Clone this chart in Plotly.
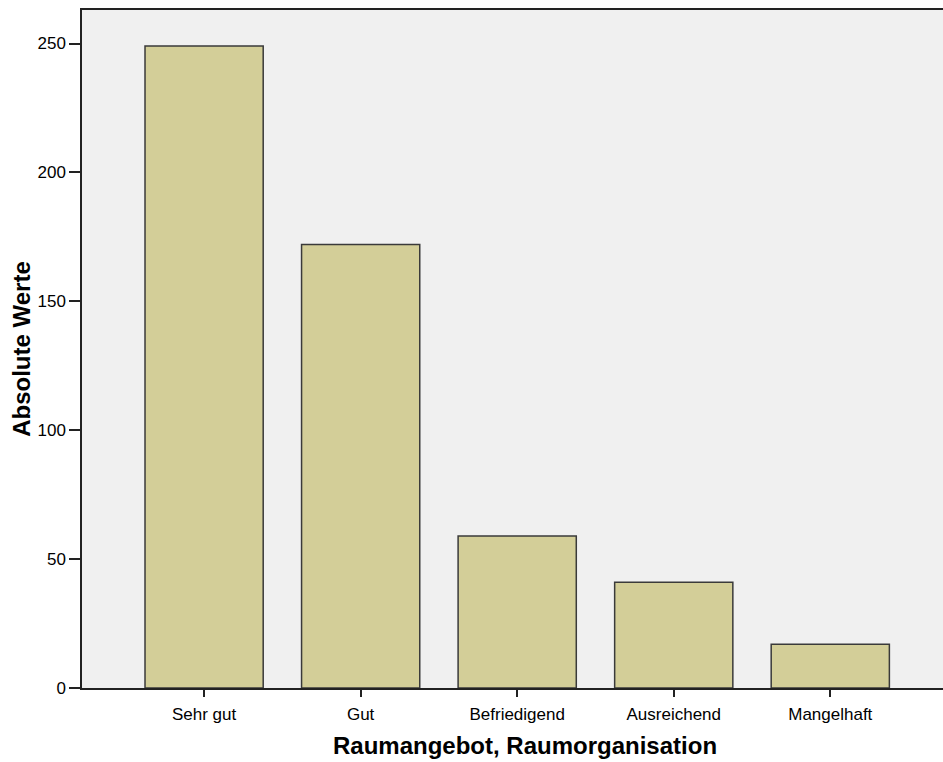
import plotly.graph_objects as go

categories = ["Sehr gut", "Gut", "Befriedigend", "Ausreichend", "Mangelhaft"]
values = [249, 172, 59, 41, 17]
y_ticks = [0, 50, 100, 150, 200, 250]

fig = go.Figure()
fig.add_trace(go.Bar(
    x=list(range(len(categories))),
    y=values,
    marker=dict(color="#D3CE98", line=dict(color="#3a3a3a", width=1.5)),
    width=0.755,
    hoverinfo="x+y",
))

fig.update_layout(
    width=943, height=762,
    margin=dict(l=82, r=0, t=10, b=74),
    paper_bgcolor="white",
    plot_bgcolor="#F0F0F0",
    showlegend=False,
    font=dict(family="Liberation Sans, Arial, sans-serif", size=17, color="#000000"),
    xaxis=dict(
        tickmode="array",
        tickvals=list(range(len(categories))),
        ticktext=categories,
        range=[-0.78, 4.72],
        showgrid=False, zeroline=False,
        showline=True, linecolor="#222222", linewidth=1.5, mirror=True,
        ticks="outside", ticklen=7, tickcolor="#222222", tickwidth=1.5,
        tickfont=dict(size=17),
        ticklabelstandoff=3,
    ),
    yaxis=dict(
        tickmode="array",
        tickvals=y_ticks,
        range=[0, 263],
        showgrid=False, zeroline=False,
        showline=True, linecolor="#222222", linewidth=1.5,
        ticks="outside", ticklen=11, tickcolor="#222222", tickwidth=1.5,
        tickfont=dict(size=17),
        title=dict(text="<b>Absolute Werte</b>", font=dict(size=24), standoff=0),
    ),
    annotations=[dict(
        text="<b>Raumangebot, Raumorganisation</b>",
        xref="paper", yref="paper", x=0.514, y=-0.0855,
        xanchor="center", yanchor="middle", showarrow=False,
        font=dict(size=24),
    )],
)

fig.write_html(
    "out.html",
    config={"displayModeBar": False},
    post_script="document.body.style.margin='0';document.body.style.overflow='hidden';",
)
